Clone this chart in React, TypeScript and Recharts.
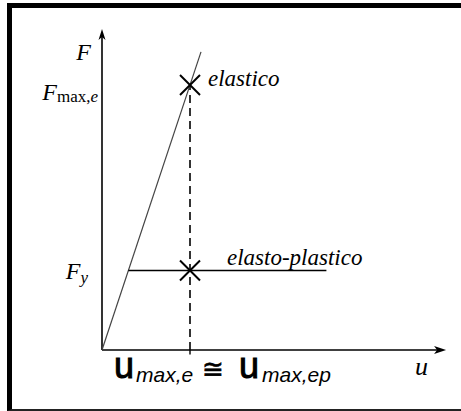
import React from "react";
import {
  ComposedChart,
  XAxis,
  YAxis,
  Line,
  Scatter,
  ReferenceLine,
  ReferenceDot,
} from "recharts";

// ---- data (u = displacement, F = force; u_max,e = 1, F_max,e = 1) ----
const elasticU = [0, 1.125];
const elasticF = [0, 1.125];
const plasticU = [0.3, 2.55];
const plasticF = [0.3, 0.3];
const markerU = [1, 1];
const markerF = [1, 0.3];
const uMax = 1;
const FMax = 1;
const Fy = 0.3;
const uAxisEnd = 3.91;
const FAxisEnd = 1.211;
const uDomain = [0, 4];
const FDomain = [0, 1.3];

const elasticData = elasticU.map((u, i) => ({ u, F: elasticF[i] }));
const plasticData = plasticU.map((u, i) => ({ u, F: plasticF[i] }));
const markerData = markerU.map((u, i) => ({ u, F: markerF[i] }));

const serif = "'Liberation Serif', 'DejaVu Serif', serif";
const sans = "'Liberation Sans', Arial, sans-serif";

const XMark = (p: any) => {
  const { cx, cy } = p;
  const s = 10;
  return (
    <g stroke="#000" strokeWidth={2}>
      <line x1={cx - s} y1={cy - s} x2={cx + s} y2={cy + s} />
      <line x1={cx - s} y1={cy + s} x2={cx + s} y2={cy - s} />
    </g>
  );
};

const ArrowRight = (p: any) => {
  const { cx, cy } = p;
  return (
    <path
      d={`M${cx},${cy} L${cx - 12},${cy - 4} L${cx - 9},${cy} L${cx - 12},${cy + 4} Z`}
      fill="#000"
    />
  );
};

const ArrowUp = (p: any) => {
  const { cx, cy } = p;
  return (
    <path
      d={`M${cx},${cy} L${cx - 3.5},${cy + 11} L${cx},${cy + 8} L${cx + 3.5},${cy + 11} Z`}
      fill="#000"
    />
  );
};

export default function App() {
  return (
    <div
      style={{
        position: "absolute",
        left: 0,
        top: 0,
        width: 461,
        height: 411,
        background: "#fff",
        overflow: "hidden",
      }}
    >
      <div
        style={{
          position: "absolute",
          left: 7,
          top: 3,
          width: 454,
          height: 408,
          boxSizing: "border-box",
          borderTop: "5px solid #000",
          borderLeft: "5px solid #000",
          borderBottom: "2px solid #222",
        }}
      />
      <div style={{ position: "absolute", left: 0, top: 0 }}>
        <ComposedChart
          width={461}
          height={411}
          margin={{ top: 5.5, right: 7, bottom: 61, left: 102 }}
        >
          <XAxis dataKey="u" type="number" domain={uDomain} hide allowDataOverflow />
          <YAxis dataKey="F" type="number" domain={FDomain} hide allowDataOverflow />

          {/* axes */}
          <ReferenceLine
            segment={[{ x: 0, y: 0 }, { x: uAxisEnd - 0.08, y: 0 }]}
            stroke="#000"
            strokeWidth={1.6}
            ifOverflow="visible"
          />
          <ReferenceLine
            segment={[{ x: 0, y: 0 }, { x: 0, y: FAxisEnd - 0.03 }]}
            stroke="#000"
            strokeWidth={1.6}
            ifOverflow="visible"
          />
          <ReferenceDot x={uAxisEnd} y={0} ifOverflow="visible" shape={ArrowRight} />
          <ReferenceDot x={0} y={FAxisEnd} ifOverflow="visible" shape={ArrowUp} />

          {/* dashed u_max line and tick */}
          <ReferenceLine
            segment={[{ x: uMax, y: 0 }, { x: uMax, y: FMax }]}
            stroke="#000"
            strokeWidth={1.6}
            strokeDasharray="8 5"
            ifOverflow="visible"
          />
          <ReferenceLine
            segment={[{ x: uMax, y: 0 }, { x: uMax, y: -0.017 }]}
            stroke="#000"
            strokeWidth={1.4}
            ifOverflow="visible"
          />

          <Line
            data={elasticData}
            dataKey="F"
            type="linear"
            stroke="#444"
            strokeWidth={1.2}
            dot={false}
            activeDot={false}
            isAnimationActive={false}
          />
          <Line
            data={plasticData}
            dataKey="F"
            type="linear"
            stroke="#000"
            strokeWidth={1.6}
            dot={false}
            activeDot={false}
            isAnimationActive={false}
          />
          <Scatter data={markerData} dataKey="F" shape={XMark} isAnimationActive={false} />

          {/* labels */}
          <ReferenceDot
            x={0}
            y={FAxisEnd}
            ifOverflow="visible"
            shape={(p: any) => (
              <text x={p.cx - 11} y={p.cy + 31} textAnchor="end" fontFamily={serif} fontStyle="italic" fontSize={24} fill="#000">
                F
              </text>
            )}
          />
          <ReferenceDot
            x={0}
            y={FMax}
            ifOverflow="visible"
            shape={(p: any) => (
              <text x={p.cx - 4} y={p.cy + 15} textAnchor="end" fontFamily={serif} fill="#000">
                <tspan fontStyle="italic" fontSize={24}>F</tspan>
                <tspan fontSize={17} dy={2}>max,</tspan>
                <tspan fontSize={17} fontStyle="italic">e</tspan>
              </text>
            )}
          />
          <ReferenceDot
            x={0}
            y={Fy}
            ifOverflow="visible"
            shape={(p: any) => (
              <text x={p.cx - 14} y={p.cy + 8} textAnchor="end" fontFamily={serif} fontStyle="italic" fill="#000">
                <tspan fontSize={24}>F</tspan>
                <tspan fontSize={17} dy={4}>y</tspan>
              </text>
            )}
          />
          <ReferenceDot
            x={markerU[0]}
            y={markerF[0]}
            ifOverflow="visible"
            shape={(p: any) => (
              <text x={p.cx + 18} y={p.cy + 1} fontFamily={serif} fontStyle="italic" fontSize={23} fill="#000">
                elastico
              </text>
            )}
          />
          <ReferenceDot
            x={markerU[1]}
            y={markerF[1]}
            ifOverflow="visible"
            shape={(p: any) => (
              <text x={p.cx + 37} y={p.cy - 6} fontFamily={serif} fontStyle="italic" fontSize={23} fill="#000">
                elasto-plastico
              </text>
            )}
          />
          <ReferenceDot
            x={uAxisEnd}
            y={0}
            ifOverflow="visible"
            shape={(p: any) => (
              <text x={p.cx - 31} y={p.cy + 25} fontFamily={serif} fontStyle="italic" fontSize={26} fill="#000">
                u
              </text>
            )}
          />
          <ReferenceDot
            x={uMax}
            y={0}
            ifOverflow="visible"
            shape={(p: any) => (
              <g fill="#000" fontFamily={sans}>
                <text x={p.cx - 76} y={p.cy + 28} fontSize={36} stroke="#000" strokeWidth={1}>u</text>
                <text x={p.cx - 54} y={p.cy + 32} fontSize={21} fontStyle="italic">max,e</text>
                <text x={p.cx + 23} y={p.cy + 28} fontSize={26} stroke="#000" strokeWidth={0.6} textAnchor="middle">≅</text>
                <text x={p.cx + 49} y={p.cy + 28} fontSize={36} stroke="#000" strokeWidth={1}>u</text>
                <text x={p.cx + 72} y={p.cy + 32} fontSize={21} fontStyle="italic">max,ep</text>
              </g>
            )}
          />
        </ComposedChart>
      </div>
    </div>
  );
}
